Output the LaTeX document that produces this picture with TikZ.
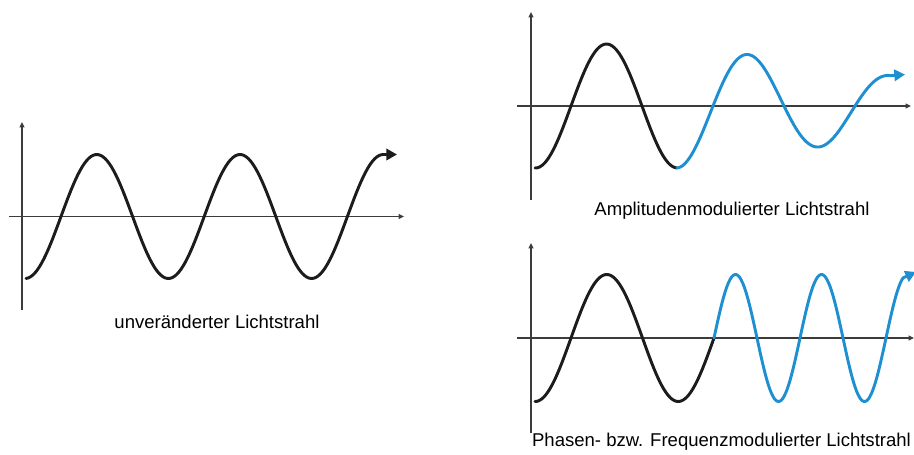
\documentclass[tikz,border=0pt]{standalone}
\usepackage{fontspec}
\setmainfont{Liberation Sans}
\usetikzlibrary{arrows.meta}
\definecolor{wblue}{RGB}{30,143,208}
\definecolor{axisgray}{RGB}{60,60,60}
\definecolor{wblack}{RGB}{28,28,28}
\tikzset{
  axis/.style={draw=axisgray, line width=0.95pt, -{Triangle[length=4pt,width=3.6pt]}},
  wave/.style={line width=2.2pt, line cap=round, line join=round},
  wavetip/.style={-{Triangle[length=8pt,width=8.5pt]}},
  lbl/.style={font=\fontsize{13.9}{16}\selectfont, inner sep=0pt, text=black}
}
\begin{document}
\begin{tikzpicture}[x=0.75pt,y=-0.75pt]
\useasboundingbox (0,0) rectangle (914,454);
% ---------- left panel ----------
\draw[axis] (22,310) -- (22,122);
\draw[axis] (9,216.5) -- (404,216.5);
\draw[wave, wavetip, draw=wblack, fill=none]
  plot[domain=26:383.3, samples=160] (\x, {216.5 - 62*sin((\x-61)/143.2*360)})
  -- (397,154.5);
\node[lbl] (l1) at (217,322) {unveränderter Lichtstrahl};
% ---------- top right panel ----------
\draw[axis] (531,200) -- (531,12);
\draw[axis] (517,106) -- (911,106);
\draw[wave, draw=wblack]
  plot[domain=535:677, samples=80] (\x, {106 - 62*sin((\x-571)/142*360)});
\draw[wave, wavetip, draw=wblue, fill=none]
  plot[domain=677:890.5, samples=120] (\x, {106 - (62-0.148*(\x-677))*sin((\x-571)/142*360)})
  -- (905,74.5);
\node[lbl] (l2) at (732,211) {Amplitudenmodulierter Lichtstrahl};
% ---------- bottom right panel ----------
\draw[axis] (531,433) -- (531,243);
\draw[axis] (517,338) -- (914,338);
\draw[wave, draw=wblack]
  plot[domain=535:714, samples=100] (\x, {338 - 63.5*sin((\x-571)/143*360)});
\draw[wave, wavetip, draw=wblue, fill=none]
  plot[domain=714:903, samples=160] (\x, {338 - 63.5*sin((\x-714)/86*360)})
  -- (916,272);
\node[lbl] (l3) at (721.5,442) {Phasen- bzw. Frequenzmodulierter Lichtstrahl};
\end{tikzpicture}
\end{document}
